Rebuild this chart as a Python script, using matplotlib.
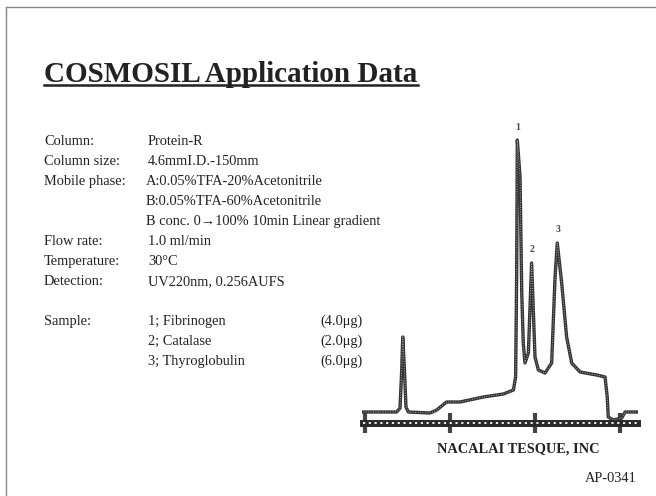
import matplotlib.pyplot as plt

W, H = 656, 496

# chromatogram trace (time in min, relative absorbance)
time_min = [-0.1, 1.86, 2.06, 2.16, 2.22, 2.32, 2.41, 2.55, 3.82, 4.22, 4.80,
            5.59, 6.96, 8.14, 8.73, 8.86, 8.92, 8.96, 9.12, 9.22, 9.31, 9.41,
            9.61, 9.80, 9.90, 10.0, 10.2, 10.59, 10.98, 11.18, 11.31, 11.57,
            11.86, 12.16, 12.65, 13.63, 14.12, 14.25, 14.31, 14.6, 15.1, 15.3,
            15.98]
absorb = [0.0, 0.0, 0.04, 0.42, 0.75, 0.42, 0.05, 0.0, -0.01, 0.02, 0.10,
          0.10, 0.15, 0.18, 0.22, 0.35, 1.35, 2.72, 2.35, 1.19, 0.69, 0.49,
          0.59, 1.49, 1.02, 0.55, 0.42, 0.39, 0.49, 1.35, 1.69, 1.29,
          0.75, 0.49, 0.40, 0.37, 0.35, 0.15, -0.05, -0.08, -0.06, 0.0,
          0.0]
peak_names = ['1', '2', '3']
peak_t = [9.0, 9.82, 11.35]
peak_a = [2.80, 1.58, 1.78]
ticks_min = [0, 5, 10, 15]
axis_level = -0.11

labels = ['Column:', 'Column size:', 'Mobile phase:', '', '', 'Flow rate:',
          'Temperature:', 'Detection:', '', 'Sample:', '', '']
values = ['Protein-R', '4.6mmI.D.-150mm', 'A:0.05%TFA-20%Acetonitrile',
          'B:0.05%TFA-60%Acetonitrile', 'B conc. 0\u2192100% 10min Linear gradient',
          '1.0 ml/min', '30\u00b0C', 'UV220nm, 0.256AUFS', '',
          '1; Fibrinogen', '2; Catalase', '3; Thyroglobulin']
amounts = ['', '', '', '', '', '', '', '', '', '(4.0\u03bcg)', '(2.0\u03bcg)', '(6.0\u03bcg)']

serif = ['Liberation Serif', 'DejaVu Serif']
ink = '#222222'

fig = plt.figure(figsize=(W / 100, H / 100), dpi=100)


def fx(px):
    return px / W


def fy(py):
    return 1 - py / H


# page frame (only left and top edges are inside the picture)
fig.add_artist(plt.Line2D([fx(6), fx(6)], [fy(7), 0], color='#888888', lw=1))
fig.add_artist(plt.Line2D([fx(6), 1], [fy(7), fy(7)], color='#888888', lw=1))

# title with underline
fig.text(fx(44), fy(82), 'COSMOSIL Application Data', family=serif,
         fontsize=21, fontweight='bold', color=ink, va='baseline')
fig.add_artist(plt.Line2D([fx(44), fx(418)], [fy(84.5), fy(84.5)],
                          color=ink, lw=1.8))

# conditions block
for i, (lab, val, amt) in enumerate(zip(labels, values, amounts)):
    yb = fy(145 + 20 * i)
    if lab:
        fig.text(fx(44), yb, lab, family=serif, fontsize=10.4, color=ink, va='baseline')
    if val:
        xv = 146 if val.startswith(('A:', 'B')) else 148
        fig.text(fx(xv), yb, val, family=serif, fontsize=10.4, color=ink, va='baseline')
    if amt:
        fig.text(fx(320), yb, amt, family=serif, fontsize=10.4, color=ink, va='baseline')

# chromatogram
ax = fig.add_axes([362.45 / W, (H - 437) / H, 275.4 / W, 325 / H])
ax.set_xlim(-0.15, 16.05)
ax.set_ylim(-0.25, 3.0)
ax.patch.set_alpha(0)
for s in ['left', 'right', 'top']:
    ax.spines[s].set_visible(False)
ax.spines['bottom'].set_position(('data', axis_level))
ax.spines['bottom'].set_linewidth(5)
ax.spines['bottom'].set_color('#2a2a2a')
ax.spines['bottom'].set_bounds(-0.1, 16.0)
ax.axhline(axis_level, xmin=0.003, xmax=0.997, color='white', lw=1.3,
           ls=(0, (1.2, 2)), zorder=3)
ax.set_xticks(ticks_min)
ax.set_xticklabels([])
ax.set_yticks([])
ax.tick_params(axis='x', direction='inout', length=15, width=3, color='#444444')

ax.plot(time_min, absorb, color='#333333', lw=2.4, solid_joinstyle='round')
ax.plot(time_min, absorb, color='#aaaaaa', lw=0.7, ls=(0, (1, 1.5)))
for name, t, a in zip(peak_names, peak_t, peak_a):
    ax.text(t, a, name, family=serif, fontsize=7, fontweight='bold',
            color='#444444', ha='center', va='bottom')

fig.text(fx(518), fy(453), 'NACALAI TESQUE, INC', family=serif, fontsize=10.4,
         fontweight='bold', color=ink, ha='center', va='baseline')
fig.text(fx(637), fy(482), 'AP-0341', family=serif, fontsize=10.4,
         color=ink, ha='right', va='baseline')

fig.savefig('out.png', dpi=100)
